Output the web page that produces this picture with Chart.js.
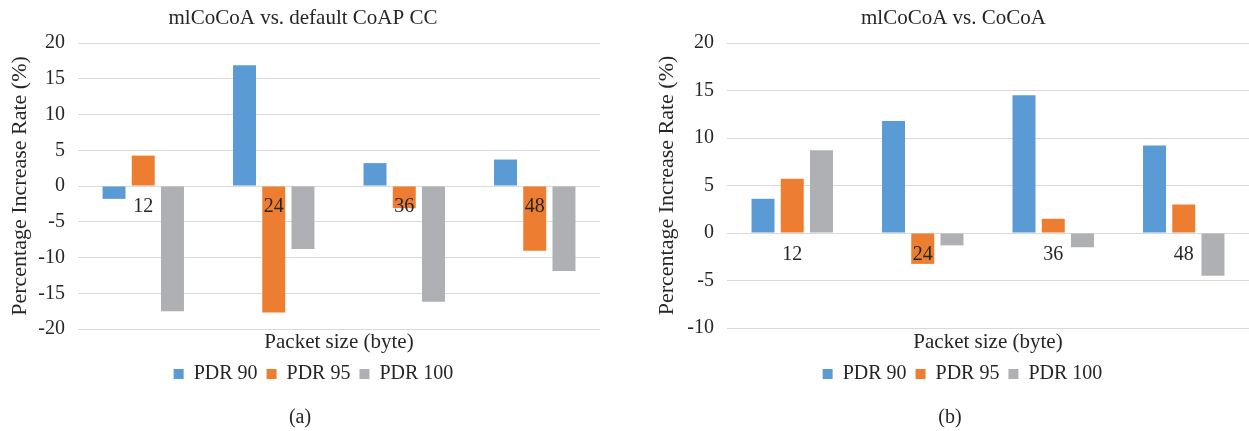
<!DOCTYPE html>
<html><head><meta charset="utf-8">
<script src="https://cdn.jsdelivr.net/npm/chart.js@4.4.0/dist/chart.umd.min.js"></script>
<style>
html,body{margin:0;padding:0;background:#fff;width:1249px;height:431px;overflow:hidden;}
#c1{position:absolute;left:0;top:0;}
#c2{position:absolute;left:630px;top:0;}
</style></head><body>
<canvas id="c1" width="600" height="431"></canvas>
<canvas id="c2" width="619" height="431"></canvas>
<script>
// ---- data ----
const categories = ['12', '24', '36', '48'];
const seriesNames = ['PDR 90', 'PDR 95', 'PDR 100'];
const seriesColors = ['#5b9bd5', '#ed7d31', '#afb0b3'];

const leftTitle = 'mlCoCoA vs. default CoAP CC';
const leftPdr90 = [-1.8, 16.9, 3.2, 3.7];
const leftPdr95 = [4.25, -17.7, -3.1, -9.05];
const leftPdr100 = [-17.5, -8.8, -16.2, -11.9];
const leftTickRange = [-20, 20, 5];
const leftCaption = '(a)';

const rightTitle = 'mlCoCoA vs. CoCoA';
const rightPdr90 = [3.6, 11.8, 14.5, 9.2];
const rightPdr95 = [5.7, -3.25, 1.5, 3.0];
const rightPdr100 = [8.7, -1.3, -1.5, -4.5];
const rightTickRange = [-10, 20, 5];
const rightCaption = '(b)';

const yTitle = 'Percentage Increase Rate (%)';
const xTitle = 'Packet size (byte)';

// ---- plugins ----
const FONT = '"Liberation Serif", "Times New Roman", serif';
const TXT = '#262626';
Chart.defaults.font.family = FONT;
Chart.defaults.color = TXT;

const boxShift = {
  id: 'boxShift',
  afterLayout(chart, args, opts) {
    const move = (b, dx) => { if (b && dx) { b.left += dx; b.right += dx; } };
    move(chart.titleBlock, opts.title);
    move(chart.legend, opts.legend);
    chart.boxes.forEach(b => {
      if (b !== chart.titleBlock && b !== chart.legend && !b.axis && b.options && b.options.text !== undefined) move(b, opts.subtitle);
    });
  }
};

const zeroLabels = {
  id: 'zeroLabels',
  afterDatasetsDraw(chart, args, opts) {
    const {ctx} = chart;
    const x = chart.scales.x, y = chart.scales.y;
    const y0 = y.getPixelForValue(0);
    ctx.save();
    ctx.font = '20px ' + FONT;
    ctx.fillStyle = TXT;
    ctx.textAlign = 'center';
    ctx.textBaseline = 'middle';
    chart.data.labels.forEach((lab, i) => ctx.fillText(lab, x.getPixelForTick(i), y0 + opts.offset));
    ctx.restore();
  }
};

function makeChart(id, title, s1, s2, s3, range, caption, cfg) {
  const sets = [s1, s2, s3].map((d, i) => ({
    label: seriesNames[i], data: d, backgroundColor: seriesColors[i],
    borderWidth: 0, categoryPercentage: 0.672, barPercentage: 0.786
  }));
  return new Chart(document.getElementById(id), {
    type: 'bar',
    data: {labels: categories, datasets: sets},
    plugins: [boxShift, zeroLabels],
    options: {
      responsive: false, animation: false, devicePixelRatio: 1,
      layout: {padding: 0},
      plugins: {
        title: {display: true, text: title, color: TXT, font: {family: FONT, size: 21, weight: 'normal'}, padding: {top: 5.4, bottom: 12.4}},
        subtitle: {display: true, position: 'bottom', text: caption, color: TXT, font: {family: FONT, size: 20, weight: 'normal'}, padding: {top: 12, bottom: 1}},
        legend: {position: 'bottom', labels: {boxWidth: 10, boxHeight: 10, padding: 9, color: TXT, font: {family: FONT, size: 20, weight: 'normal'}}},
        tooltip: {enabled: false},
        boxShift: cfg.shift,
        zeroLabels: {offset: cfg.labelOffset}
      },
      scales: {
        x: {
          grid: {display: false, drawTicks: false}, border: {display: false},
          ticks: {display: false},
          title: {display: true, text: xTitle, color: TXT, font: {family: FONT, size: 21, weight: 'normal'}, padding: {top: cfg.xTitleTop, bottom: 0.4}}
        },
        y: {
          min: range[0], max: range[1],
          afterFit: s => { s.width = cfg.axisWidth; },
          grid: {color: '#d9d9d9', lineWidth: 1, drawTicks: false},
          border: {display: false},
          ticks: {stepSize: range[2], padding: 13, color: TXT, font: {family: FONT, size: 20, weight: 'normal'}},
          title: {display: true, text: yTitle, color: TXT, font: {family: FONT, size: 22, weight: 'normal'}, padding: {top: cfg.yTitleTop, bottom: 0}}
        }
      }
    }
  });
}

makeChart('c1', leftTitle, leftPdr90, leftPdr95, leftPdr100, leftTickRange, leftCaption,
  {axisWidth: 78, yTitleTop: 6.8, xTitleTop: 0.4, labelOffset: 21, shift: {title: 3, legend: 13.5, subtitle: 0}});
makeChart('c2', rightTitle, rightPdr90, rightPdr95, rightPdr100, rightTickRange, rightCaption,
  {axisWidth: 97, yTitleTop: 23.8, xTitleTop: 1.4, labelOffset: 22, shift: {title: 14, legend: 23, subtitle: 10.5}});
</script>
</body></html>
